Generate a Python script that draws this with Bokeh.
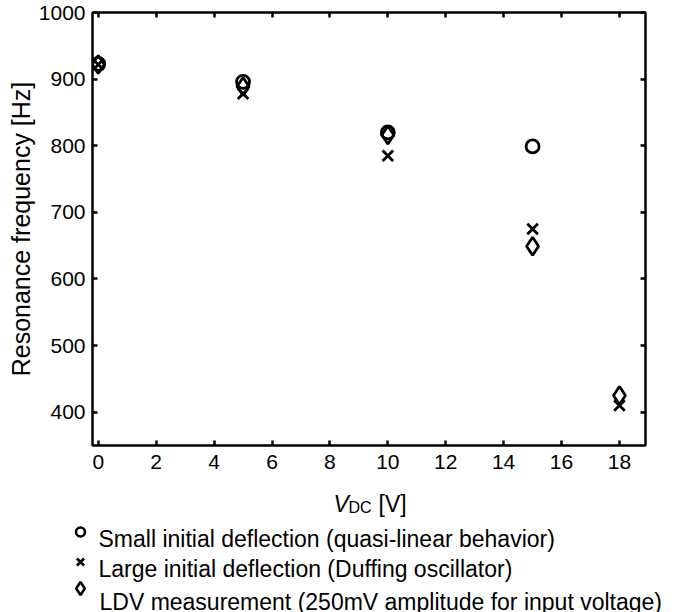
from bokeh.plotting import figure
from bokeh.models import Range1d, LinearAxis, FixedTicker, CustomJSTickFormatter
from bokeh.layouts import column
from bokeh.core.properties import value
from bokeh.embed import file_html
from bokeh.resources import INLINE

# ---- data ----
small_v = [0, 5, 10, 15]
small_f = [923, 896, 820, 799]

large_v = [0, 5, 10, 15, 18]
large_f = [922, 878, 785, 675, 410]

ldv_v = [0, 5, 10, 15, 18]
ldv_f = [922, 889, 816, 649, 425]

x_ticks = [0, 2, 4, 6, 8, 10, 12, 14, 16, 18]
y_ticks = [400, 500, 600, 700, 800, 900, 1000]

legend_labels = [
    "Small initial deflection (quasi-linear behavior)",
    "Large initial deflection (Duffing oscillator)",
    "LDV measurement (250mV amplitude for input voltage)",
]
legend_markers = ["circle", "x", "diamond"]
y_label = "Resonance frequency [Hz]"

FONT = "Liberation Sans"
LEFT, RIGHT, TOP, FW, FH = 92, 32, 12, 553, 433

p = figure(
    width=677, height=478,
    frame_width=FW, frame_height=FH,
    x_range=Range1d(-0.2, 18.9), y_range=Range1d(350, 1000),
    toolbar_location=None, output_backend="svg",
    min_border_left=LEFT, min_border_right=RIGHT, min_border_top=TOP, min_border_bottom=33,
)
p.background_fill_color = "white"
p.border_fill_color = "white"
p.xgrid.visible = False
p.ygrid.visible = False
p.outline_line_color = "black"
p.outline_line_width = 2.5
p.outline_line_alpha = 1.0

for ax in p.xaxis:
    ax.ticker = FixedTicker(ticks=x_ticks)
for ax in p.yaxis:
    ax.ticker = FixedTicker(ticks=y_ticks)
    ax.axis_label = y_label

for ax in p.xaxis + p.yaxis:
    ax.axis_line_color = None
    ax.major_tick_in = 5
    ax.major_tick_out = 0
    ax.major_tick_line_width = 2.5
    ax.major_tick_line_color = "black"
    ax.minor_tick_line_color = None
    ax.major_label_text_font = FONT
    ax.major_label_text_font_size = "21px"
    ax.major_label_text_color = "black"
    ax.axis_label_text_font = FONT
    ax.axis_label_text_font_style = "normal"
    ax.axis_label_text_color = "black"

p.xaxis.major_label_standoff = 9
p.yaxis.major_label_standoff = 7
p.yaxis.axis_label_text_font_size = "25px"
p.yaxis.axis_label_standoff = 1

# tick marks on top and right sides (no labels)
blank = CustomJSTickFormatter(code="return ''")
top = LinearAxis(ticker=FixedTicker(ticks=x_ticks), formatter=blank)
right = LinearAxis(ticker=FixedTicker(ticks=y_ticks), formatter=blank)
for ax in (top, right):
    ax.axis_line_color = None
    ax.major_tick_in = 5
    ax.major_tick_out = 0
    ax.major_tick_line_width = 2.5
    ax.major_tick_line_color = "black"
    ax.minor_tick_line_color = None
    ax.major_label_standoff = 0
p.add_layout(top, "above")
p.add_layout(right, "right")

# markers
p.scatter(small_v, small_f, marker="circle", size=13, fill_color=None,
          line_color="black", line_width=2.8)
p.scatter(large_v, large_f, marker="x", size=15, line_color="black", line_width=2.8)
p.scatter(ldv_v, ldv_f, marker="diamond", size=18, fill_color=None,
          line_color="black", line_width=2.8)

# ---- lower panel: x-axis label and legend (data coordinates = page pixels) ----
H2 = 134
q = figure(
    width=677, height=H2, frame_width=FW, frame_height=H2,
    x_range=Range1d(LEFT, LEFT + FW), y_range=Range1d(H2, 0),
    toolbar_location=None, output_backend="svg",
    min_border_left=LEFT, min_border_right=RIGHT, min_border_top=0, min_border_bottom=0,
)
q.axis.visible = False
q.xgrid.visible = False
q.ygrid.visible = False
q.outline_line_color = None
q.background_fill_color = "white"
q.border_fill_color = "white"

rs = []
# x-axis label  V_DC [V]
rs.append(q.text(x=[333], y=[25], text=["V"], text_font=value(FONT), text_font_size=value("23px"),
                 text_font_style="italic", text_baseline="alphabetic", text_align="left",
                 text_color="black"))
rs.append(q.text(x=[348], y=[29], text=["DC"], text_font=value(FONT), text_font_size=value("16px"),
                 text_baseline="alphabetic", text_align="left", text_color="black"))
rs.append(q.text(x=[378], y=[25], text=["[V]"], text_font=value(FONT), text_font_size=value("23px"),
                 text_baseline="alphabetic", text_align="left", text_color="black"))

# legend
leg_x = [80, 80, 80]
leg_y = [53.5, 83.5, 110]
leg_size = [9, 10, 13]
text_x = [98, 98, 99]
text_y = [60, 90, 123]
rs.append(q.scatter(x=leg_x, y=leg_y, marker=legend_markers, size=leg_size, fill_color=None,
                    line_color="black", line_width=2.6))
rs.append(q.text(x=text_x, y=text_y, text=legend_labels, text_font=value(FONT),
                 text_font_size=value("23px"), text_baseline="alphabetic", text_align="left",
                 text_color="black"))
for r in rs:
    r.level = "overlay"

layout = column(p, q, spacing=0)
open("out.html", "w").write(file_html(layout, INLINE))
